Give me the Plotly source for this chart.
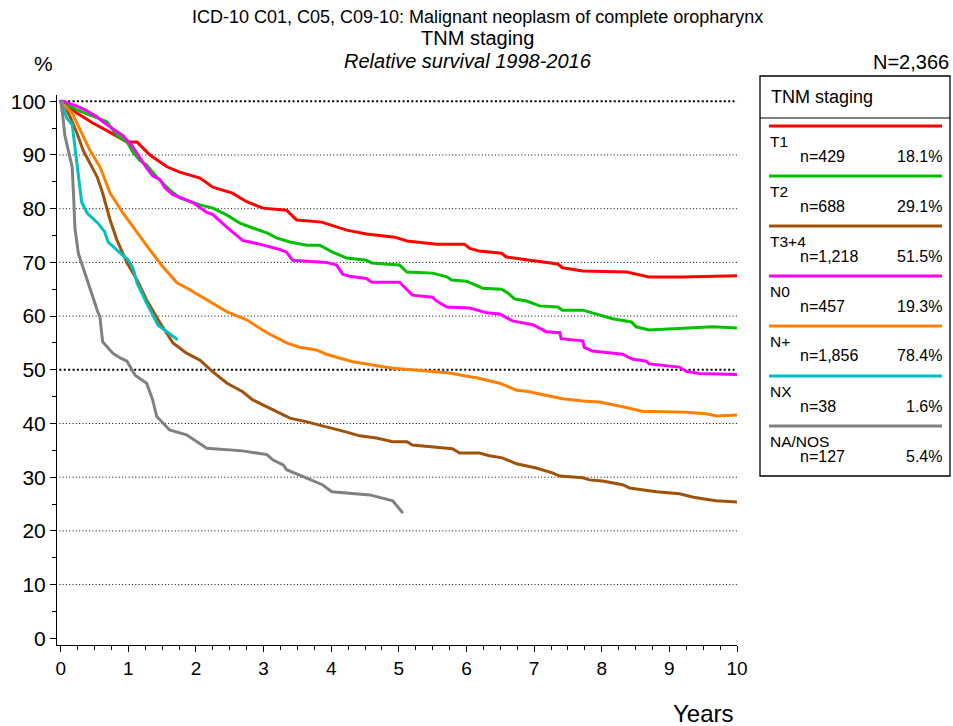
import plotly.graph_objects as go

# ---------------- data ----------------
t1_years = [0, 0.03, 0.24, 0.48, 0.73, 0.98, 1.13, 1.32, 1.57, 1.76, 2.06, 2.25, 2.54, 2.75, 2.99, 3.34, 3.49, 3.86, 4.23, 4.52, 4.94, 5.12, 5.56, 5.97, 6.05, 6.19, 6.52, 6.59, 6.94, 7.18, 7.35, 7.42, 7.72, 8.37, 8.60, 8.70, 9.19, 10.0]
t1_vals = [100, 99.7, 97.8, 95.9, 94.2, 92.4, 92.4, 90.0, 87.8, 86.8, 85.7, 84.0, 82.9, 81.3, 80.1, 79.7, 77.9, 77.5, 76.0, 75.3, 74.7, 74.0, 73.4, 73.4, 72.6, 72.1, 71.7, 71.0, 70.4, 70.0, 69.7, 69.0, 68.4, 68.2, 67.5, 67.3, 67.3, 67.5]

t2_years = [0, 0.24, 0.54, 0.68, 0.83, 0.98, 1.07, 1.17, 1.27, 1.42, 1.61, 1.76, 2.06, 2.25, 2.46, 2.65, 2.84, 3.05, 3.20, 3.39, 3.64, 3.83, 4.02, 4.23, 4.52, 4.60, 5.01, 5.12, 5.50, 5.71, 5.78, 6.00, 6.24, 6.52, 6.61, 6.71, 6.89, 7.08, 7.35, 7.42, 7.72, 7.86, 8.16, 8.44, 8.51, 8.70, 9.64, 10.0]
t2_vals = [100, 98.4, 96.9, 96.2, 93.7, 92.4, 90.5, 89.0, 88.1, 85.9, 83.5, 82.0, 80.7, 80.1, 78.8, 77.3, 76.4, 75.5, 74.5, 73.8, 73.2, 73.2, 71.9, 70.8, 70.4, 69.9, 69.5, 68.2, 68.0, 67.3, 66.7, 66.5, 65.2, 65.0, 64.3, 63.2, 62.8, 61.9, 61.7, 61.1, 61.1, 60.6, 59.5, 58.9, 58.0, 57.4, 58.0, 57.8]

t34_years = [0, 0.03, 0.14, 0.24, 0.33, 0.43, 0.54, 0.62, 0.73, 0.83, 0.98, 1.13, 1.27, 1.47, 1.66, 1.86, 2.06, 2.25, 2.46, 2.69, 2.84, 3.05, 3.24, 3.39, 3.64, 3.83, 4.02, 4.23, 4.42, 4.67, 4.91, 5.12, 5.20, 5.50, 5.79, 5.90, 6.19, 6.34, 6.53, 6.74, 6.89, 7.03, 7.27, 7.38, 7.72, 7.82, 8.01, 8.31, 8.41, 8.66, 8.81, 9.15, 9.34, 9.54, 9.69, 10.0]
t34_vals = [100, 99.7, 97.1, 94.1, 90.9, 88.5, 85.9, 82.9, 77.9, 74.2, 69.9, 66.7, 63.0, 58.7, 55.0, 53.1, 51.8, 49.6, 47.5, 45.9, 44.4, 43.1, 42.0, 41.0, 40.3, 39.7, 39.2, 38.4, 37.7, 37.3, 36.6, 36.6, 36.0, 35.6, 35.3, 34.5, 34.5, 34.0, 33.6, 32.5, 32.1, 31.7, 30.8, 30.2, 29.9, 29.5, 29.3, 28.6, 28.0, 27.6, 27.3, 26.9, 26.3, 25.9, 25.6, 25.4]

n0_years = [0, 0.03, 0.24, 0.39, 0.54, 0.62, 0.77, 0.92, 1.05, 1.17, 1.27, 1.36, 1.47, 1.54, 1.66, 1.79, 1.96, 2.16, 2.25, 2.46, 2.54, 2.69, 2.94, 3.24, 3.34, 3.43, 3.93, 4.08, 4.17, 4.27, 4.52, 4.60, 5.01, 5.12, 5.20, 5.50, 5.56, 5.71, 6.05, 6.30, 6.49, 6.68, 6.98, 7.18, 7.38, 7.40, 7.72, 7.74, 7.86, 8.31, 8.45, 8.66, 8.70, 9.15, 9.25, 9.44, 10.0]
n0_vals = [100, 100, 99.1, 98.2, 97.1, 96.2, 94.9, 93.6, 91.8, 89.4, 87.6, 86.1, 85.4, 83.9, 82.6, 82.0, 81.1, 79.3, 78.9, 76.5, 75.6, 74.1, 73.4, 72.4, 71.9, 70.4, 70.0, 69.5, 67.8, 67.4, 67.0, 66.3, 66.3, 65.0, 63.9, 63.5, 62.8, 61.7, 61.5, 60.6, 60.4, 59.1, 58.4, 57.1, 56.9, 55.8, 55.4, 54.2, 53.5, 52.9, 52.0, 51.6, 51.1, 50.5, 49.7, 49.3, 49.1]

np_years = [0, 0.03, 0.17, 0.29, 0.43, 0.58, 0.73, 0.92, 1.13, 1.32, 1.51, 1.72, 1.91, 2.16, 2.46, 2.75, 3.05, 3.34, 3.53, 3.78, 3.93, 4.12, 4.32, 4.61, 4.91, 5.20, 5.50, 5.75, 6.05, 6.15, 6.49, 6.74, 6.89, 7.08, 7.27, 7.42, 7.72, 7.97, 8.31, 8.60, 9.25, 9.55, 9.70, 10.0]
np_vals = [100, 99.5, 97.8, 94.6, 90.9, 87.8, 82.9, 79.2, 75.5, 72.3, 69.2, 66.2, 64.9, 63.0, 60.8, 59.3, 56.9, 55.0, 54.2, 53.7, 52.9, 52.2, 51.5, 50.9, 50.3, 50.0, 49.6, 49.4, 48.7, 48.5, 47.5, 46.2, 46.0, 45.5, 45.1, 44.6, 44.2, 44.0, 43.1, 42.3, 42.1, 41.8, 41.4, 41.6]

nx_years = [0, 0.09, 0.17, 0.21, 0.26, 0.31, 0.39, 0.55, 0.65, 0.70, 0.91, 1.00, 1.07, 1.13, 1.27, 1.44, 1.73]
nx_vals = [100, 96.9, 95.6, 91.3, 85.7, 81.2, 79.2, 77.3, 75.7, 73.8, 71.4, 70.4, 68.9, 66.1, 62.4, 58.3, 55.6]

na_years = [0, 0.03, 0.06, 0.11, 0.17, 0.19, 0.21, 0.26, 0.39, 0.48, 0.54, 0.58, 0.62, 0.77, 0.88, 0.98, 1.10, 1.27, 1.36, 1.42, 1.51, 1.61, 1.86, 2.01, 2.16, 2.69, 3.05, 3.14, 3.29, 3.34, 3.53, 3.87, 4.01, 4.57, 4.91, 5.06]
na_vals = [100, 97.4, 93.7, 90.9, 87.7, 82.5, 76.4, 71.7, 66.7, 63.0, 61.1, 59.8, 55.2, 53.1, 52.2, 51.6, 49.0, 47.5, 44.4, 41.3, 40.1, 38.8, 37.9, 36.6, 35.4, 34.9, 34.2, 33.2, 32.3, 31.4, 30.4, 28.6, 27.3, 26.7, 25.6, 23.3]

series_names = ["T1", "T2", "T3+4", "N0", "N+", "NX", "NA/NOS"]
series_n = ["n=429", "n=688", "n=1,218", "n=457", "n=1,856", "n=38", "n=127"]
series_pct = ["18.1%", "29.1%", "51.5%", "19.3%", "78.4%", "1.6%", "5.4%"]
series_colors = ["#FF0000", "#00C000", "#A0520A", "#FF00FF", "#FF8000", "#00C0C0", "#808080"]
series_x = [t1_years, t2_years, t34_years, n0_years, np_years, nx_years, na_years]
series_y = [t1_vals, t2_vals, t34_vals, n0_vals, np_vals, nx_vals, na_vals]

y_ticks = [0, 10, 20, 30, 40, 50, 60, 70, 80, 90, 100]
x_ticks = [0, 1, 2, 3, 4, 5, 6, 7, 8, 9, 10]
grid_vals = [10, 20, 30, 40, 50, 60, 70, 80, 90, 100]
bold_grid = [50, 100]

# ---------------- layout geometry ----------------
W, H = 953, 726
L, R, T, B = 57, 216, 95, 81
PW, PH = W - L - R, H - T - B
FONT = "Liberation Sans, Arial, sans-serif"


def px(x):
    return (x - L) / PW


def py(y):
    return (H - B - y) / PH


fig = go.Figure()

# gridlines
for g in grid_vals:
    bold = g in bold_grid
    fig.add_shape(type="line", xref="x", yref="y", x0=-0.02, x1=10.03, y0=g, y1=g,
                  line=dict(color="black", width=2 if bold else 1,
                            dash="2px,2.4px" if bold else "1px,2.3px"),
                  layer="below")

for name, xs, ys, col in zip(series_names, series_x, series_y, series_colors):
    fig.add_trace(go.Scatter(x=xs, y=ys, mode="lines", name=name,
                             line=dict(color=col, width=3), showlegend=False))

fig.update_xaxes(range=[-0.055, 10.0], tickvals=x_ticks, ticks="outside", ticklen=6,
                 tickwidth=1, tickcolor="black", showline=True, linecolor="black",
                 linewidth=1, showgrid=False, zeroline=False,
                 tickfont=dict(family=FONT, size=19, color="black"),
                 minor=dict(dtick=0.25, tick0=0, ticks="outside", ticklen=4,
                            tickcolor="black", showgrid=False))
fig.update_yaxes(range=[-1.25, 101.17], tickvals=y_ticks, ticks="outside", ticklen=6,
                 tickwidth=1, tickcolor="black", showline=True, linecolor="black",
                 linewidth=1, showgrid=False, zeroline=False,
                 tickfont=dict(family=FONT, size=21, color="black"),
                 minor=dict(dtick=5, tick0=0, ticks="outside", ticklen=4,
                            tickcolor="black", showgrid=False))

ann = []
shapes = []


def text(x, y, s, size, xanchor="left", italic=False):
    ann.append(dict(x=px(x), y=py(y), xref="paper", yref="paper", text=s,
                    showarrow=False, xanchor=xanchor, yanchor="middle",
                    font=dict(family=FONT, size=size, color="black",
                              style="italic" if italic else "normal")))


text(477, 17, "ICD-10 C01, C05, C09-10: Malignant neoplasm of complete oropharynx", 18, "center")
text(477, 38, "TNM staging", 20, "center")
text(468, 61, "Relative survival 1998-2016", 20, "center", italic=True)
text(43, 63, "%", 21, "center")
text(951, 62, "N=2,366", 20, "right")
text(703, 713, "Years", 24, "center")

# legend box
shapes.append(dict(type="rect", xref="paper", yref="paper", x0=px(760), x1=px(950),
                   y0=py(476), y1=py(76), line=dict(color="black", width=1.3)))
shapes.append(dict(type="line", xref="paper", yref="paper", x0=px(760), x1=px(950),
                   y0=py(118), y1=py(118), line=dict(color="black", width=1)))
text(769, 97, "TNM staging", 18)
for i, (name, n, pct, col) in enumerate(zip(series_names, series_n, series_pct, series_colors)):
    y0 = 126 + 50 * i
    shapes.append(dict(type="line", xref="paper", yref="paper", x0=px(769), x1=px(942),
                       y0=py(y0), y1=py(y0), line=dict(color=col, width=3)))
    text(768, y0 + 15, name, 15.5)
    text(798, y0 + 30, n, 16)
    text(944, y0 + 30, pct, 16, "right")

fig.update_layout(width=W, height=H, margin=dict(l=L, r=R, t=T, b=B, autoexpand=False),
                  paper_bgcolor="white", plot_bgcolor="white", showlegend=False,
                  annotations=ann, shapes=list(fig.layout.shapes) + shapes)

fig.write_html("out.html", config={"displayModeBar": False},
               post_script="document.body.style.margin='0';document.body.style.overflow='hidden';")
